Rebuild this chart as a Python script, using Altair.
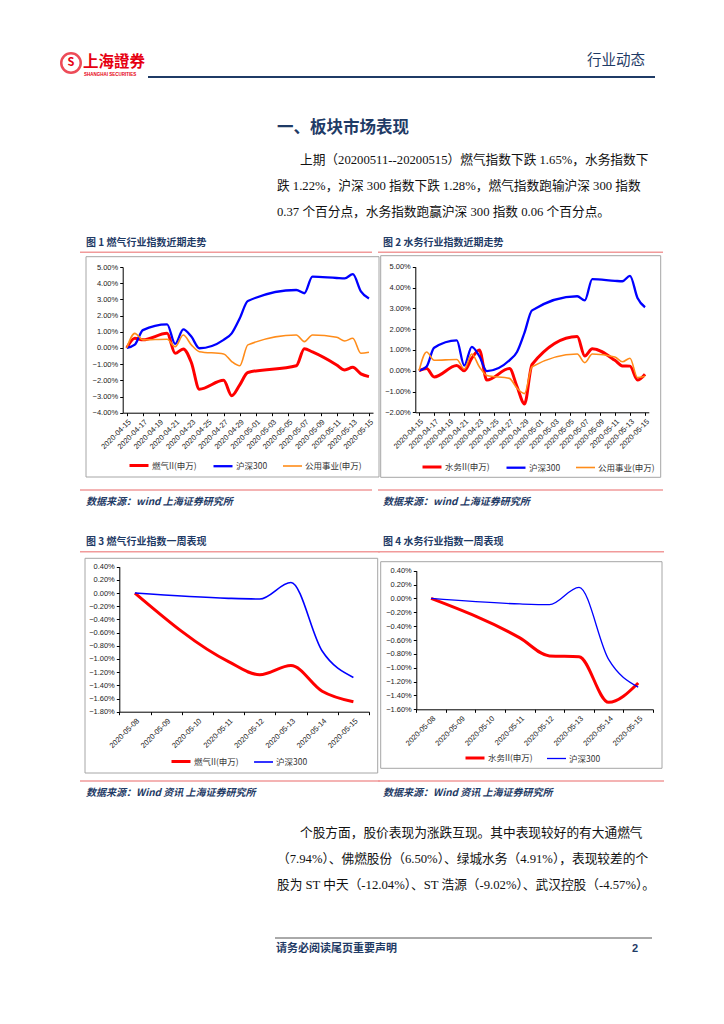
import altair as alt
import pandas as pd

# ---------------- data ----------------
month_dates = ["2020-04-15", "2020-04-16", "2020-04-17", "2020-04-20", "2020-04-21",
               "2020-04-22", "2020-04-23", "2020-04-24", "2020-04-27", "2020-04-28",
               "2020-04-29", "2020-04-30", "2020-05-06", "2020-05-07", "2020-05-08",
               "2020-05-11", "2020-05-12", "2020-05-13", "2020-05-14", "2020-05-15"]
gas_month = [0.0, 0.6, 0.5, 0.9, -0.33, -0.06, -0.9, -2.55, -2.0, -2.95,
             -2.28, -1.52, -1.1, -0.05, -0.25, -1.05, -1.36, -1.2, -1.6, -1.77]
water_month = [0.0, 0.1, -0.3, 0.25, 0.0, 0.6, 1.0, -0.45, 0.1, -0.76,
               -1.6, 0.3, 1.64, 0.71, 1.05, 0.5, 0.23, 0.22, -0.45, -0.17]
hs300_month = [0.0, 0.2, 1.1, 1.46, 0.25, 1.15, 0.7, -0.02, 0.5, 0.9,
               1.83, 2.9, 3.58, 3.38, 4.4, 4.32, 4.3, 4.56, 3.5, 3.05]
utility_month = [0.0, 0.9, 0.5, 0.54, 0.08, 0.8, 0.19, -0.23, -0.37, -0.84,
                 -1.1, 0.19, 0.8, 0.39, 0.8, 0.66, 0.43, 0.6, -0.33, -0.27]
month_ticks = ["2020-04-15", "2020-04-17", "2020-04-19", "2020-04-21", "2020-04-23",
               "2020-04-25", "2020-04-27", "2020-04-29", "2020-05-01", "2020-05-03",
               "2020-05-05", "2020-05-07", "2020-05-09", "2020-05-11", "2020-05-13",
               "2020-05-15"]

week_categories = ["2020-05-08", "2020-05-09", "2020-05-10", "2020-05-11",
                   "2020-05-12", "2020-05-13", "2020-05-14", "2020-05-15"]
week_dates = ["2020-05-08", "2020-05-11", "2020-05-12", "2020-05-13", "2020-05-14", "2020-05-15"]
gas_week = [0.0, -1.04, -1.24, -1.10, -1.49, -1.65]
water_week = [0.0, -0.57, -0.83, -0.84, -1.50, -1.22]
hs300_week = [0.0, -0.08, -0.09, 0.16, -0.88, -1.28]

y_ticks_1 = [5, 4, 3, 2, 1, 0, -1, -2, -3, -4]
y_ticks_2 = [5, 4, 3, 2, 1, 0, -1, -2]
y_ticks_3 = [0.4, 0.2, 0.0, -0.2, -0.4, -0.6, -0.8, -1.0, -1.2, -1.4, -1.6, -1.8]
y_ticks_4 = [0.4, 0.2, 0.0, -0.2, -0.4, -0.6, -0.8, -1.0, -1.2, -1.4, -1.6]

names_1 = ["燃气II(申万)", "沪深300", "公用事业(申万)"]
names_2 = ["水务II(申万)", "沪深300", "公用事业(申万)"]
names_3 = ["燃气II(申万)", "沪深300"]
names_4 = ["水务II(申万)", "沪深300"]

header_right = "行业动态"
section_title = "一、板块市场表现"
para1 = ["上期（20200511--20200515）燃气指数下跌 1.65%，水务指数下",
         "跌 1.22%，沪深 300 指数下跌 1.28%，燃气指数跑输沪深 300 指数",
         "0.37 个百分点，水务指数跑赢沪深 300 指数 0.06 个百分点。"]
para2 = ["个股方面，股价表现为涨跌互现。其中表现较好的有大通燃气",
         "（7.94%）、佛燃股份（6.50%）、绿城水务（4.91%），表现较差的个",
         "股为 ST 中天（-12.04%）、ST 浩源（-9.02%）、武汉控股（-4.57%）。"]
captions = ["图 1 燃气行业指数近期走势", "图 2 水务行业指数近期走势",
            "图  3  燃气行业指数一周表现", "图  4  水务行业指数一周表现"]
sources = ["数据来源：wind 上海证券研究所", "数据来源：wind  上海证券研究所",
           "数据来源：Wind 资讯 上海证券研究所", "数据来源：Wind 资讯 上海证券研究所"]
footer_text = "请务必阅读尾页重要声明"
page_no = "2"

# ---------------- styles ----------------
NAVY = "#1f3b66"
PINK = "#f19a9a"
FRAME = "#a6a6a6"
RED, BLUE, ORANGE = "#ff0000", "#0000ff", "#ff8c1a"
CJK = "Noto Sans CJK SC"
SERIF = "Liberation Serif, Noto Sans CJK SC"
AX = "Liberation Sans, Noto Sans CJK SC"
BODY = 12.7
M = 8  # page margin

one = pd.DataFrame({"k": [0]})


def P(v):
    return alt.value(v - M)


def txt(x, y, s, size, color="#000", font=CJK, weight="normal", style="normal", align="left"):
    return alt.Chart(one).mark_text(align=align, baseline="middle", fontSize=size, font=font,
                                    fontWeight=weight, fontStyle=style, color=color).encode(
        x=P(x), y=P(y), text=alt.value(s))


def hrule(x1, x2, y, color, w):
    return alt.Chart(one).mark_rule(color=color, strokeWidth=w).encode(x=P(x1), x2=P(x2), y=P(y))


def frame(x1, y1, x2, y2):
    return alt.Chart(one).mark_rect(fillOpacity=0, stroke=FRAME, strokeWidth=1).encode(
        x=P(x1), x2=P(x2), y=P(y1), y2=P(y2))


def long_df(dates, names, series):
    rows = []
    for n, vals in zip(names, series):
        for d, v in zip(dates, vals):
            rows.append({"date": d, "series": n, "value": v})
    return pd.DataFrame(rows)


def dt(s, h=0):
    y, m, d = s.split("-")
    return alt.DateTime(year=int(y), month=int(m), date=int(d), hours=h, utc=True)


axis_common = dict(domainColor="#000", tickColor="#000", domainWidth=1, tickSize=3, grid=False,
                   labelFont=AX, labelFontSize=7.5, labelColor="#222", title=None, labelPadding=2,
                   labelOverlap=False)


def y_axis(ticks, x_page):
    return alt.Axis(orient="left", offset=-(x_page - M), values=ticks,
                    labelExpr="format(datum.value, '.2f') + '%'", **axis_common)


def legend(x_page, y_page):
    return alt.Legend(orient="none", legendX=x_page - M, legendY=y_page - M, direction="horizontal",
                      title=None, symbolType="stroke", symbolSize=361, symbolStrokeWidth=2.5,
                      labelFont=CJK, labelFontSize=8.5, labelColor="#333", labelOffset=2,
                      columnPadding=11, padding=0, labelLimit=300)


def month_chart(names, series, colors, widths, x0, x1, ybot, ytop, ydom, yticks, leg):
    df = long_df(month_dates, names, series)
    return alt.Chart(df).mark_line(interpolate="monotone").encode(
        x=alt.X("date:T",
                scale=alt.Scale(type="utc", domain=[dt("2020-04-14", 12), dt("2020-05-15", 12)],
                                range=[x0 - M, x1 - M]),
                axis=alt.Axis(orient="bottom", offset=(ybot - M) - 1008,
                              values=[dt(t) for t in month_ticks],
                              labelExpr="utcFormat(datum.value, '%Y-%m-%d')",
                              labelAngle=-45, **axis_common)),
        y=alt.Y("value:Q", scale=alt.Scale(domain=ydom, range=[ybot - M, ytop - M], nice=False, zero=False),
                axis=y_axis(yticks, x0)),
        color=alt.Color("series:N", scale=alt.Scale(domain=names, range=colors), legend=leg),
        strokeWidth=alt.StrokeWidth("series:N", scale=alt.Scale(domain=names, range=widths), legend=None),
    )


def week_chart(names, series, colors, widths, x0, x1, ybot, ytop, ydom, yticks, leg):
    df = long_df(week_dates, names, series)
    return alt.Chart(df).mark_line(interpolate="monotone").encode(
        x=alt.X("date:O", bandPosition=0.5,
                scale=alt.Scale(type="band", domain=week_categories, range=[x0 - M, x1 - M],
                                paddingInner=0, paddingOuter=0),
                axis=alt.Axis(orient="bottom", offset=(ybot - M) - 1008, labelAngle=-45,
                              tickBand="extent", **axis_common)),
        y=alt.Y("value:Q", scale=alt.Scale(domain=ydom, range=[ybot - M, ytop - M], nice=False, zero=False),
                axis=y_axis(yticks, x0)),
        color=alt.Color("series:N", scale=alt.Scale(domain=names, range=colors), legend=leg),
        strokeWidth=alt.StrokeWidth("series:N", scale=alt.Scale(domain=names, range=widths), legend=None),
    )


c1 = month_chart(names_1, [gas_month, hs300_month, utility_month], [RED, BLUE, ORANGE], [3, 1.6, 1.6],
                 122.7, 373.0, 412.7, 267.0, [-4, 5], y_ticks_1, legend(128, 454.5))
c2 = month_chart(names_2, [water_month, hs300_month, utility_month], [RED, BLUE, ORANGE], [3, 1.6, 1.6],
                 415.3, 648.8, 412.3, 266.7, [-2, 5], y_ticks_2, legend(421, 456))
c3 = week_chart(names_3, [gas_week, hs300_week], [RED, BLUE], [3, 1.6],
                119.3, 369.0, 711.7, 566.7, [-1.8, 0.4], y_ticks_3, legend(170, 750.5))
c4 = week_chart(names_4, [water_week, hs300_week], [RED, BLUE], [3, 1.3],
                416.3, 653.0, 709.3, 570.7, [-1.6, 0.4], y_ticks_4, legend(464, 747))

decor = [
    # header
    alt.Chart(one).mark_point(shape="circle", size=380, filled=False, color="#e60012", strokeWidth=2.5).encode(
        x=P(71), y=P(63)),
    txt(71, 63, "S", 11, "#e60012", weight="bold", align="center"),
    txt(83, 62, "上海證券", 15.5, "#e60012", weight="bold"),
    txt(84, 74.5, "SHANGHAI SECURITIES", 4.5, "#e60012", font="Liberation Sans", weight="bold"),
    txt(587, 61, header_right, 14.5, NAVY),
    hrule(148, 655, 77, NAVY, 2),
    # section
    txt(277, 128, section_title, 16.5, NAVY, weight="bold"),
    txt(300, 160, para1[0], BODY, "#111", font=SERIF),
    txt(277, 186, para1[1], BODY, "#111", font=SERIF),
    txt(277, 212, para1[2], BODY, "#111", font=SERIF),
    # figure 1 / 2
    txt(86, 242.5, captions[0], 10, NAVY, weight="bold"),
    txt(383, 242.5, captions[1], 10, NAVY, weight="bold"),
    hrule(80, 372, 252.3, PINK, 1.5),
    hrule(378, 663, 252.3, PINK, 1.5),
    frame(86, 256.7, 379, 477),
    frame(380.7, 255.7, 660.7, 477.3),
    hrule(80, 372, 490, PINK, 1.5),
    hrule(378, 663, 490, PINK, 1.5),
    txt(86, 501.7, sources[0], 10, NAVY, weight="bold", style="italic"),
    txt(383, 501.7, sources[1], 10, NAVY, weight="bold", style="italic"),
    # figure 3 / 4
    txt(86, 542.3, captions[2], 10, NAVY, weight="bold"),
    txt(383, 542.3, captions[3], 10, NAVY, weight="bold"),
    hrule(80, 380, 551.7, PINK, 1.5),
    hrule(378, 664, 551.7, PINK, 1.5),
    frame(85, 558.3, 377.7, 773),
    frame(380.7, 561.7, 662, 768.3),
    hrule(80, 380, 781, PINK, 1.5),
    hrule(378, 664, 781, PINK, 1.5),
    txt(86, 792.7, sources[2], 10, NAVY, weight="bold", style="italic"),
    txt(383, 792.7, sources[3], 10, NAVY, weight="bold", style="italic"),
    # paragraph 2
    txt(300, 833, para2[0], BODY, "#111", font=SERIF),
    txt(277, 859, para2[1], BODY, "#111", font=SERIF),
    txt(277, 885, para2[2], BODY, "#111", font=SERIF),
    # footer
    hrule(275, 652, 938, "#555", 1),
    txt(276, 949, footer_text, 11, NAVY, weight="bold"),
    txt(632, 949, page_no, 11, NAVY, font="Liberation Sans", weight="bold"),
]

chart = alt.layer(*decor, c1, c2, c3, c4).resolve_scale(
    x="independent", y="independent", color="independent", strokeWidth="independent"
).properties(
    width=708, height=1008, autosize=alt.AutoSizeParams(type="none"), padding=0
).configure_view(strokeWidth=0)

chart.save("out.html", embed_options={"renderer": "svg", "actions": False})
